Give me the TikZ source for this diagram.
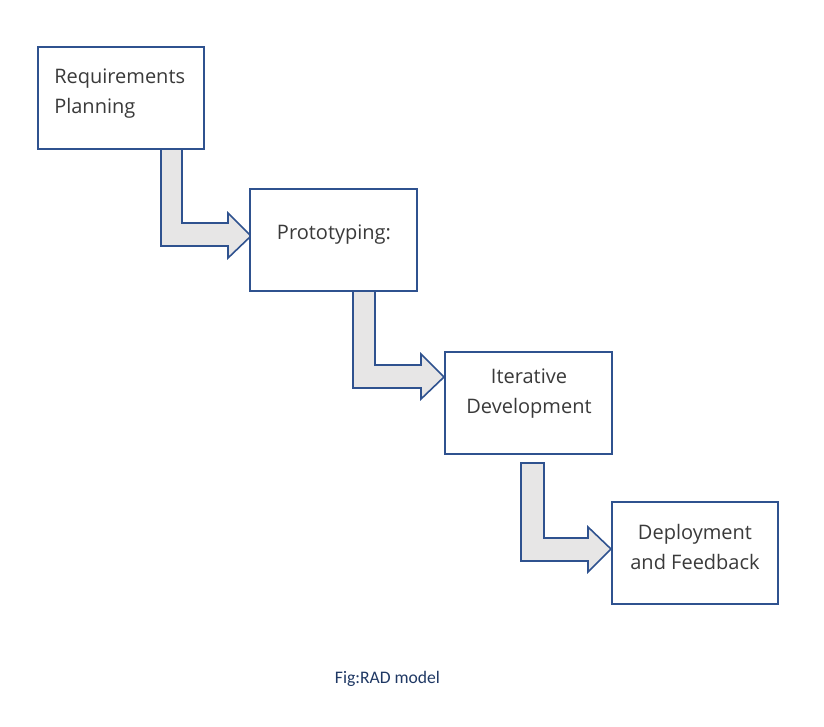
\documentclass[tikz,border=0pt]{standalone}
\usepackage{fontspec}
\setmainfont{Open Sans}
\newfontfamily\capfont{Carlito}
\definecolor{boxblue}{HTML}{2F528F}
\definecolor{arrowfill}{HTML}{E7E6E6}
\definecolor{txtgray}{HTML}{3A3A3A}
\definecolor{capblue}{HTML}{1F3864}
\begin{document}
\begin{tikzpicture}[x=0.75pt,y=-0.75pt,
  stagebox/.style={draw=boxblue,line width=1.5pt,fill=white,rectangle,inner sep=0pt},
  stagetext/.style={text=txtgray,font=\fontsize{15}{22.5}\selectfont,inner sep=0pt},
  bentarrow/.style={draw=boxblue,line width=1.2pt,fill=arrowfill,line join=miter}]
\useasboundingbox[fill=white] (0,0) rectangle (824,726);
% arrows
\draw[bentarrow] (161,149) -- (182,149) -- (182,223) -- (228,223) -- (228,213) -- (251,236) -- (228,258) -- (228,246) -- (161,246) -- cycle;
\draw[bentarrow] (353,290) -- (375,290) -- (375,365) -- (421,365) -- (421,354) -- (444,377) -- (421,399) -- (421,388) -- (353,388) -- cycle;
\draw[bentarrow] (521,463) -- (544,463) -- (544,538) -- (588,538) -- (588,527) -- (611,549) -- (588,572) -- (588,561) -- (521,561) -- cycle;
% boxes
\node[stagebox,minimum width=166*0.75pt,minimum height=102*0.75pt] (b1) at (121,97.5) {};
\node[stagebox,minimum width=167*0.75pt,minimum height=102*0.75pt] (b2) at (333.5,239.5) {};
\node[stagebox,minimum width=167*0.75pt,minimum height=102*0.75pt] (b3) at (528.5,402.5) {};
\node[stagebox,minimum width=166*0.75pt,minimum height=102*0.75pt] (b4) at (695,553) {};
% texts (base anchor = baseline of the last line)
\node[stagetext,align=left,anchor=base west] (t1) at (54,113) {Requirements\\Planning};
\node[stagetext,anchor=base] (t2) at (334,239) {Prototyping:};
\node[stagetext,align=center,anchor=base] (t3) at (529,413) {Iterative\\Development};
\node[stagetext,align=center,anchor=base] (t4) at (695,569) {Deployment\\and Feedback};
\node[text=capblue,font=\capfont\fontsize{13.2}{16}\selectfont,anchor=base,inner sep=0pt] (cap) at (387.5,683) {Fig:RAD model};
\end{tikzpicture}
\end{document}
